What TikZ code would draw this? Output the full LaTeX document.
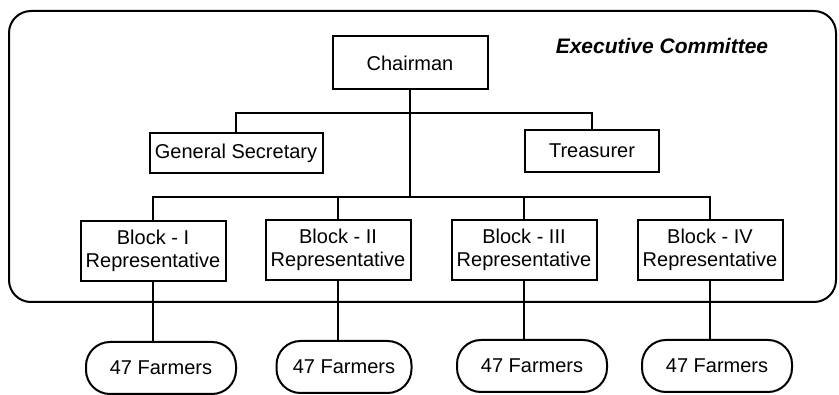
\documentclass[tikz,border=0pt]{standalone}
\usepackage{fontspec}
\setmainfont{Liberation Sans}
\usetikzlibrary{positioning}

\begin{document}
\begin{tikzpicture}[x=1pt, y=-1pt,
      every node/.style={font=\fontsize{20}{23}\selectfont},
      wire/.style={draw=black, line width=2pt},
      post/.style={draw=black, line width=2pt, fill=white, inner sep=0pt, align=center},
      farmers/.style={draw=black, line width=2pt, fill=white, rounded corners=24pt,
                      minimum width=150pt, minimum height=52pt, inner sep=0pt}]

    \useasboundingbox (0,0) rectangle (839,395);

    % committee frame
    \draw[line width=2pt, rounded corners=22pt] (9,11) rectangle (836,302);
    \node[font=\fontsize{21}{24}\selectfont\bfseries\itshape] (EC) at (662,46) {Executive Committee};

    % office bearers
    \node[post, minimum width=155pt, minimum height=53pt] (CH) at (410,63) {Chairman};
    \node[post, minimum width=173pt, minimum height=40pt] (GS) at (236,153) {General Secretary};
    \node[post, minimum width=134pt, minimum height=42pt] (TR) at (592,151) {Treasurer};

    % block representatives
    \node[post, minimum width=145pt, minimum height=60pt] (B1) at (153,251) {Block - I\\Representative};
    \node[post, minimum width=145pt, minimum height=60pt] (B2) at (338,250) {Block - II\\Representative};
    \node[post, minimum width=145pt, minimum height=60pt] (B3) at (524,250) {Block - III\\Representative};
    \node[post, minimum width=145pt, minimum height=60pt] (B4) at (710,250) {Block - IV\\Representative};

    % farmer groups
    \node[farmers] (F1) at (161,368) {47 Farmers};
    \node[farmers, minimum width=135pt] (F2) at (344,367) {47 Farmers};
    \node[farmers] (F3) at (532,366) {47 Farmers};
    \node[farmers] (F4) at (717,366) {47 Farmers};

    % chairman down to the two bars
    \coordinate (top) at (410,113);
    \coordinate (mid) at (410,197);
    \draw[wire] (CH.south) -- (mid);
    \draw[wire] (GS.north) |- (top) -| (TR.north);
    \draw[wire] (B1.north) |- (mid) -| (B4.north);
    \draw[wire] (B2.north) -- (B2.north |- mid);
    \draw[wire] (B3.north) -- (B3.north |- mid);

    % each block to its farmers
    \foreach \b/\f in {B1/F1, B2/F2, B3/F3, B4/F4}
      \draw[wire] (\b.south) -- (\b.south |- \f.north);
  \end{tikzpicture}
\end{document}
